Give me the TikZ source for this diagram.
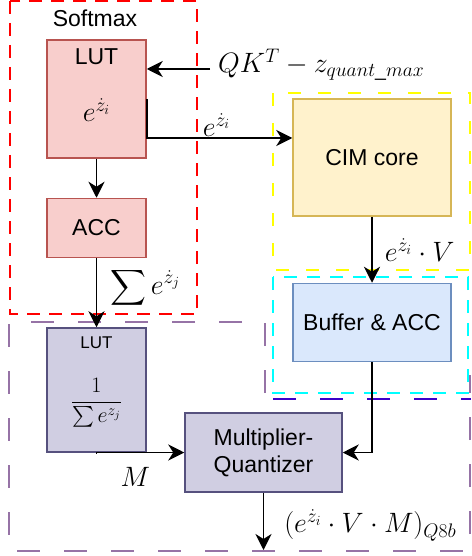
\RequirePackage{fix-cm}
\documentclass[tikz,border=0pt]{standalone}
\usepackage{amsmath}
\usepackage{fontspec}
\setmainfont{Liberation Sans}
\usetikzlibrary{arrows.meta,positioning}
\definecolor{redfill}{HTML}{F8CECC}
\definecolor{redline}{HTML}{B85450}
\definecolor{yelfill}{HTML}{FFF2CC}
\definecolor{yelline}{HTML}{D6B656}
\definecolor{bluefill}{HTML}{DAE8FC}
\definecolor{blueline}{HTML}{6C8EBF}
\definecolor{purpfill}{HTML}{D0CEE2}
\definecolor{purpline}{HTML}{56517E}
\definecolor{purpdash}{HTML}{9673A6}
\definecolor{navydash}{HTML}{3C00C8}
\definecolor{reddash}{RGB}{255,0,0}
\definecolor{yeldash}{RGB}{255,255,0}
\definecolor{cyandash}{RGB}{0,255,255}
\tikzset{
  unit/.style={draw, line width=1.5pt, align=center, inner sep=0pt, font=\fontsize{23}{27}\selectfont},
  redbox/.style={unit, draw=redline, fill=redfill, minimum width=99pt},
  yelbox/.style={unit, draw=yelline, fill=yelfill, minimum width=158pt},
  bluebox/.style={unit, draw=blueline, fill=bluefill, minimum width=158pt},
  purpbox/.style={unit, draw=purpline, fill=purpfill},
  txt/.style={inner sep=0pt, font=\fontsize{23}{27}\selectfont},
  smalltxt/.style={inner sep=0pt, font=\fontsize{17}{20}\selectfont},
  mlbl/.style={inner sep=0pt, font=\fontsize{28}{33}\selectfont},
  arrow/.style={-{Stealth[length=16pt, width=16pt, inset=5pt]}, line width=1.6pt},
  region/.style={line width=2pt}
}

\begin{document}
\begin{tikzpicture}[x=1pt, y=-1pt]
  \useasboundingbox (0,0) rectangle (471,556);
  % dashed groups
  \draw[region, draw=reddash, dash pattern=on 13pt off 9pt] (10,1) rectangle (197,314);
  \draw[region, draw=yeldash, dash pattern=on 13pt off 17pt] (273,93) rectangle (470,270);
  \draw[region, draw=cyandash, dash pattern=on 13pt off 10pt] (273,277) rectangle (468,393);
  \draw[line width=1.7pt, draw=purpdash, dash pattern=on 23pt off 24pt]
    (265,393) -- (265,322) -- (9,322) -- (9,551) -- (470,551) -- (470,375);
  \draw[region, draw=navydash, dash pattern=on 23pt off 24pt] (273,399) -- (471,399);
  % softmax part
  \node[txt] (title) at (95,18) {Softmax};
  \node[redbox, minimum height=118pt] (lutA) at (96.5,99) {};
  \node[txt] (lutAname) at ([yshift=-17pt]lutA.north) {LUT};
  \node[mlbl] (lutAexp) at ([yshift=-11pt]lutA.center) {$e^{\dot z_i}$};
  \node[redbox, minimum height=59pt, below=39pt of lutA] (acc) {ACC};
  \node[purpbox, minimum width=99pt, minimum height=124pt, below=69pt of acc] (lutB) {};
  \node[smalltxt] (lutBname) at ([yshift=-15pt]lutB.north) {LUT};
  \node[inner sep=0pt, font=\fontsize{22}{26}\selectfont] (lutBfrac) at ([yshift=-13pt]lutB.center) {$\dfrac{1}{\sum e^{z_j}}$};
  % CIM part
  \node[yelbox, minimum height=117pt] (cim) at (372,157.5) {CIM core};
  \node[bluebox, minimum height=78pt, below=66pt of cim] (buf) {Buffer \& ACC};
  \node[purpbox, minimum width=157pt, minimum height=79pt] (mq) at (263.5,452.5) {Multiplier-\\Quantizer};
  \node[mlbl, anchor=west, inner xsep=8pt] (qk) at (210,65) {$QK^T - z_{quant\_max}$};
  \coordinate (out) at (263.5,550);
  % connectors
  \draw[arrow] ([yshift=-4pt]qk.west) -- ([yshift=-4pt]qk.west -| lutA.east);
  \draw[arrow] (lutA.east) |- ([yshift=19.5pt]cim.west)
    node[mlbl, pos=0.75, above=1pt, xshift=-3pt] {$e^{\dot z_i}$};
  \draw[arrow] (lutA) -- (acc);
  \draw[arrow] (acc) -- (lutB)
    node[mlbl, midway, right=13pt, yshift=5pt] {$\displaystyle\sum e^{\dot z_j}$};
  \draw[arrow] (cim) -- (buf)
    node[mlbl, midway, right=12pt] {$e^{\dot z_i}\cdot V$};
  \draw[arrow] (lutB.south) |- (mq.west)
    node[mlbl, pos=0.75, below=14pt, xshift=-5pt] {$M$};
  \draw[arrow] (buf.south) |- (mq.east);
  \draw[arrow] (mq) -- (out)
    node[mlbl, midway, right=20pt, yshift=-4pt] {$(e^{\dot z_i}\cdot V\cdot M)_{Q8b}$};
\end{tikzpicture}
\end{document}
